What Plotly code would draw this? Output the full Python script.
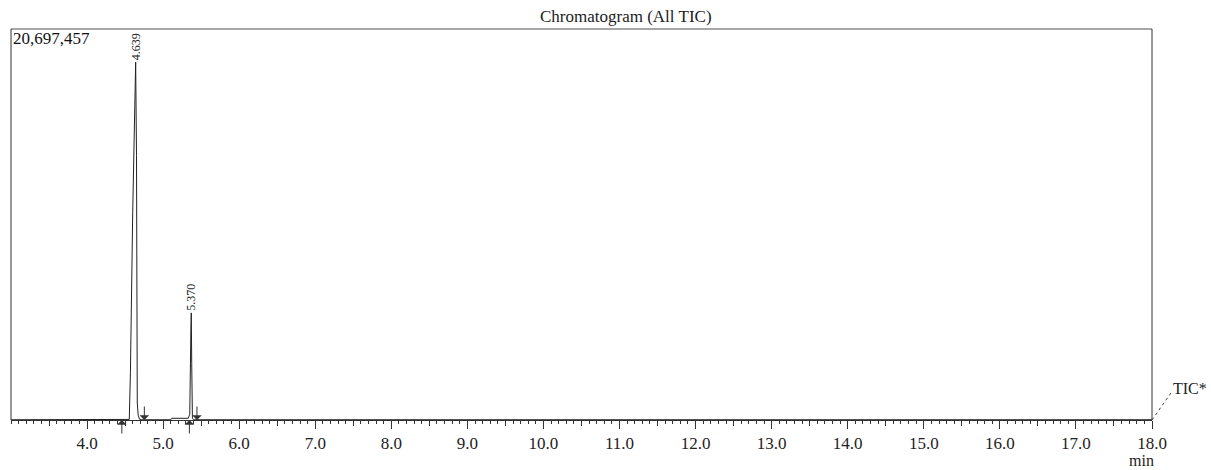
import plotly.graph_objects as go

# ---- data ----
times = [3.0, 4.45, 4.555, 4.57, 4.60, 4.639, 4.650, 4.660, 4.672, 4.69, 4.72,
         5.10, 5.11, 5.33, 5.350, 5.365, 5.370, 5.376, 5.385, 5.40, 18.0]
intensity = [15000, 15000, 30000, 2500000, 11000000, 18950000, 14000000, 900000, 250000, 40000, 15000,
             15000, 90000, 90000, 300000, 4800000, 5670000, 3000000, 100000, 15000, 15000]

peak_rt = [4.639, 5.370]
peak_height = [18950000, 5670000]
peak_labels = ["4.639", "5.370"]

start_marks = [4.457, 5.345]   # up arrows (integration start)
end_marks = [4.753, 5.445]     # down arrows (integration end)

major_ticks = [4, 5, 6, 7, 8, 9, 10, 11, 12, 13, 14, 15, 16, 17, 18]
major_labels = [f"{v:.1f}" for v in major_ticks]
half_ticks = [3.5, 4.5, 5.5, 6.5, 7.5, 8.5, 9.5, 10.5, 11.5, 12.5, 13.5, 14.5, 15.5, 16.5, 17.5]

y_max = 20697457
x_range = [3.0, 18.0]

SERIF = "Liberation Serif, Times New Roman, serif"

fig = go.Figure()
fig.add_trace(go.Scatter(x=times, y=intensity, mode="lines",
                         line=dict(color="#222222", width=1), xaxis="x", yaxis="y",
                         hoverinfo="skip", showlegend=False))
# invisible trace to activate the overlay axis (half ticks)
fig.add_trace(go.Scatter(x=x_range, y=[0, 0], mode="lines", line=dict(width=0),
                         xaxis="x2", yaxis="y", hoverinfo="skip", showlegend=False))

annotations = []
for rt, h, lab in zip(peak_rt, peak_height, peak_labels):
    annotations.append(dict(x=rt, y=h, xref="x", yref="y", text=lab, textangle=-90,
                            showarrow=False, xanchor="center", yanchor="bottom",
                            font=dict(family=SERIF, size=12, color="#222222")))
for xs in start_marks:
    annotations.append(dict(x=xs, y=0, xref="x", yref="y", text="", showarrow=True,
                            ax=0, ay=15, arrowhead=1, arrowsize=1.6, arrowwidth=1,
                            arrowcolor="#333333"))
for xe in end_marks:
    annotations.append(dict(x=xe, y=0, xref="x", yref="y", text="", showarrow=True,
                            ax=0, ay=-15, arrowhead=1, arrowsize=1.6, arrowwidth=1,
                            arrowcolor="#333333"))
annotations.append(dict(x=0.539, y=1, xref="paper", yref="paper", yshift=1,
                        text="Chromatogram (All TIC)", showarrow=False,
                        xanchor="center", yanchor="bottom",
                        font=dict(family=SERIF, size=17, color="#222222")))
annotations.append(dict(x=0, y=1, xref="paper", yref="paper", xshift=0, yshift=2,
                        text=f"{y_max:,}", showarrow=False,
                        xanchor="left", yanchor="top",
                        font=dict(family=SERIF, size=17, color="#111111")))
annotations.append(dict(x=1.0, y=0, xref="paper", yref="paper", xshift=19, yshift=32,
                        text="TIC*", showarrow=False, xanchor="left", yanchor="middle",
                        font=dict(family=SERIF, size=16, color="#222222")))
annotations.append(dict(x=18.0, y=0, xref="x", yref="paper", xshift=-11, yshift=-30,
                        text="min", showarrow=False, xanchor="center", yanchor="top",
                        font=dict(family=SERIF, size=16, color="#222222")))

shapes = [
    dict(type="line", xref="paper", yref="paper", x0=0, x1=1, y0=1, y1=1,
         line=dict(color="#8a8a8a", width=1.5)),
    dict(type="line", xref="paper", yref="paper", x0=1, x1=1, y0=0, y1=1,
         line=dict(color="#333333", width=1)),
    dict(type="line", xref="paper", yref="paper", x0=0, x1=0, y0=0, y1=1,
         line=dict(color="#333333", width=1)),
    dict(type="line", xref="paper", yref="paper", x0=1, x1=1.018, y0=0, y1=0.075,
         line=dict(color="#444444", width=1, dash="dot")),
]

fig.update_layout(
    width=1211, height=470,
    margin=dict(l=11, r=59, t=29, b=50),
    paper_bgcolor="white", plot_bgcolor="white",
    showlegend=False,
    xaxis=dict(range=x_range, tickvals=major_ticks, ticktext=major_labels,
               ticks="outside", ticklen=8, tickwidth=1, tickcolor="#333333",
               showline=True, linecolor="#333333", linewidth=1,
               showgrid=False, zeroline=False,
               tickfont=dict(family=SERIF, size=17, color="#222222"),
               minor=dict(dtick=0.1, tick0=3.0, ticks="outside", ticklen=3,
                          tickcolor="#333333", tickwidth=1, showgrid=False)),
    xaxis2=dict(range=x_range, overlaying="x", side="bottom", anchor="y",
                tickvals=half_ticks, ticktext=[""] * len(half_ticks),
                ticks="outside", ticklen=5, tickcolor="#333333", tickwidth=1,
                showline=False, showgrid=False, zeroline=False, showticklabels=False),
    yaxis=dict(range=[0, y_max], visible=False, showgrid=False, zeroline=False),
    annotations=annotations,
    shapes=shapes,
)

fig.write_html("out.html")
